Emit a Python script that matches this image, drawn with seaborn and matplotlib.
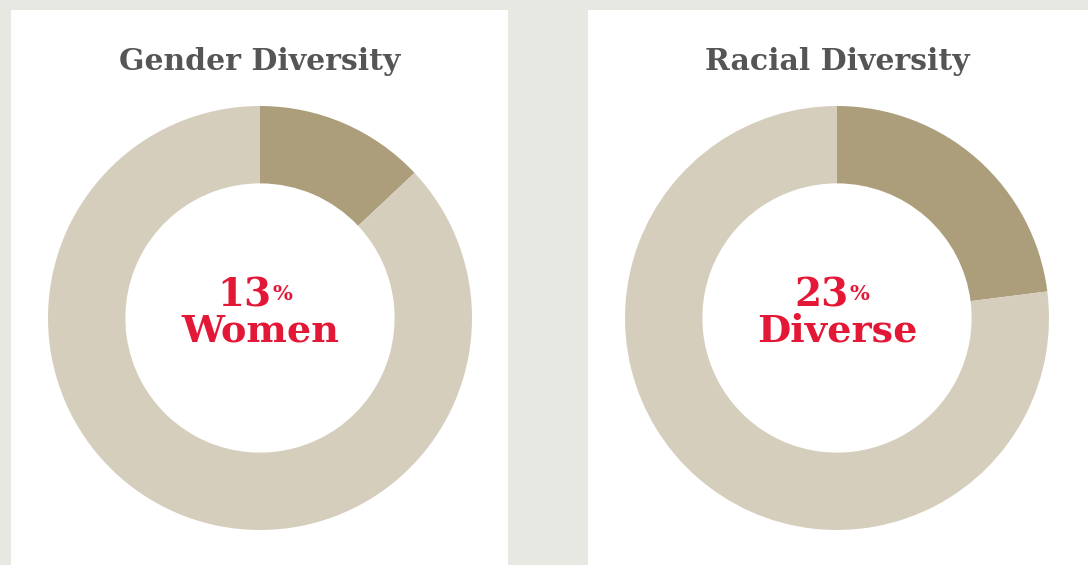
import matplotlib.pyplot as plt
import seaborn as sns
from matplotlib.patches import Rectangle

sns.set_theme(style="white")
plt.rcParams['font.family'] = ['DejaVu Serif']

# Daten
titles = ["Gender Diversity", "Racial Diversity"]
shares = [13, 23]
labels = ["Women", "Diverse"]

farben = ["#ad9e7b", "#d6cebd"]
rot = "#e31837"
grau = "#555555"

W, H = 1088, 565
fig = plt.figure(figsize=(W / 100, H / 100), dpi=100)
fig.patch.set_facecolor("#e8e8e3")

# weisse Kacheln
panels = [(11, 508), (588, 1088)]
for x0, x1 in panels:
    fig.patches.append(Rectangle((x0 / W, 0), (x1 - x0) / W, (H - 10) / H,
                                 transform=fig.transFigure, facecolor="white",
                                 edgecolor="none", zorder=-5))

centers = [260, 837]
r_out = 212
cy = H - 318

for cx, title, share, label in zip(centers, titles, shares, labels):
    ax = fig.add_axes([(cx - r_out) / W, (cy - r_out) / H,
                       2 * r_out / W, 2 * r_out / H])
    ax.set_zorder(2)
    ax.pie([share, 100 - share], colors=farben, startangle=90,
           counterclock=False, radius=1,
           wedgeprops=dict(width=0.365, edgecolor="none"))
    ax.set_xlim(-1, 1)
    ax.set_ylim(-1, 1)
    ax.set_aspect("equal")
    ax.axis("off")

    ax.text(0.056, 0.052, f"{share}", color=rot, fontsize=28,
            fontweight="bold", ha="right", va="baseline")
    ax.text(0.06, 0.085, "%", color=rot, fontsize=15,
            fontweight="bold", ha="left", va="baseline")
    ax.text(0, -0.11, label, color=rot, fontsize=27.5,
            fontweight="bold", ha="center", va="baseline")

    fig.text(cx / W, (H - 70) / H, title, color=grau, fontsize=21.5,
             fontweight="bold", ha="center", va="baseline")

plt.savefig("out.png", dpi=100, facecolor=fig.get_facecolor())
plt.close()
